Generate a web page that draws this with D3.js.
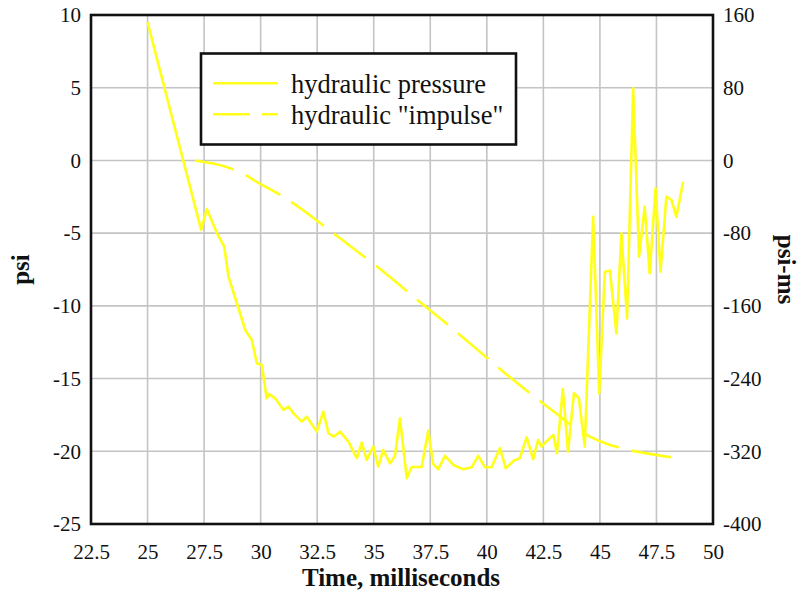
<!DOCTYPE html>
<html>
<head>
<meta charset="utf-8">
<script src="https://cdn.jsdelivr.net/npm/d3@7"></script>
<style>
  html, body { margin: 0; padding: 0; background: #fff; }
  svg { display: block; }
  svg text { font-family: "Times New Roman", "Liberation Serif", Tinos, "DejaVu Serif", serif; fill: #111; }
</style>
</head>
<body>
<svg id="chart" width="804" height="593"></svg>
<script>
// Pressure trace (psi) against time (ms)
const pressureTime = [25, 27.37, 27.62, 28.07, 28.39, 28.58, 28.95, 29.32, 29.61, 29.83, 30.05, 30.27, 30.38, 30.64,
  31.01, 31.23, 31.45, 31.82, 32.04, 32.48, 32.77, 33.0, 33.22, 33.51, 33.88, 34.25, 34.47, 34.69, 34.98, 35.2,
  35.42, 35.72, 35.94, 36.16, 36.46, 36.68, 37.12, 37.41, 37.63, 37.85, 38.15, 38.52, 38.96, 39.33, 39.62, 39.92,
  40.21, 40.58, 40.84, 41.2, 41.46, 41.76, 42.05, 42.27, 42.42, 42.61, 42.94, 43.1, 43.36, 43.59, 43.85, 44.07,
  44.33, 44.7, 44.97, 45.22, 45.44, 45.73, 45.95, 46.2, 46.47, 46.73, 46.98, 47.2, 47.46, 47.68, 47.94, 48.16,
  48.38, 48.68];
const pressure = [9.5, -4.78, -3.34, -5.01, -5.93, -8.0, -9.82, -11.66, -12.35, -13.95, -14.07, -16.36, -16.06, -16.36,
  -17.16, -16.93, -17.39, -17.96, -17.62, -18.65, -17.28, -18.76, -19.0, -18.65, -19.34, -20.48, -19.41, -20.6, -19.68, -21.06,
  -19.91, -20.83, -20.32, -17.73, -21.86, -21.08, -21.08, -18.58, -20.87, -21.24, -20.32, -20.94, -21.24, -21.1, -20.32, -21.1,
  -21.1, -19.79, -21.17, -20.63, -20.48, -19.04, -20.55, -19.22, -19.68, -19.36, -18.88, -20.14, -15.72, -20.03, -16.01, -16.34,
  -19.68, -3.87, -16.01, -7.65, -7.58, -11.89, -5.01, -10.86, 4.96, -6.62, -3.18, -7.76, -1.92, -7.65, -2.49, -2.72,
  -3.87, -1.46];

// Integrated "impulse" (psi-ms) against time (ms)
const impulseTime = [27.1, 28, 29, 30, 31, 32, 33, 34, 35, 36, 37, 38, 39, 40, 41, 42, 43, 44, 45, 46, 47, 48, 48.7];
const impulse = [0, -4, -12, -26, -40, -57, -76, -95, -114, -134, -155, -175, -196, -217, -238, -258, -277, -296, -309, -317, -322, -326, -328];

// Axis ticks
const xTicks = [22.5, 25, 27.5, 30, 32.5, 35, 37.5, 40, 42.5, 45, 47.5, 50];
const psiTicks = [10, 5, 0, -5, -10, -15, -20, -25];
const psiMsTicks = [160, 80, 0, -80, -160, -240, -320, -400];

// Legend entries
const legendLabels = ["hydraulic pressure", "hydraulic \"impulse\""];

const svg = d3.select("#chart");
const plotL = 91, plotR = 713, plotT = 15, plotB = 524;
const lineColor = "#ffff1a";
const serif = "\"Times New Roman\", \"Liberation Serif\", Tinos, \"DejaVu Serif\", serif";

const x = d3.scaleLinear().domain([22.5, 50]).range([plotL, plotR]);
const yL = d3.scaleLinear().domain([-25, 10]).range([plotB, plotT]);
const yR = d3.scaleLinear().domain([-400, 160]).range([plotB, plotT]);

// Grid
const grid = svg.append("g").attr("stroke", "#c4c4c4").attr("stroke-width", 1.6);
grid.selectAll("line.v").data(xTicks).join("line").attr("class", "v")
  .attr("x1", d => x(d)).attr("x2", d => x(d)).attr("y1", plotT).attr("y2", plotB);
grid.selectAll("line.h").data(psiTicks).join("line").attr("class", "h")
  .attr("y1", d => yL(d)).attr("y2", d => yL(d)).attr("x1", plotL).attr("x2", plotR);

// Axes (labels only, the frame is drawn separately)
const axisFont = g => {
  g.attr("font-family", serif).attr("font-size", 21);
  g.select(".domain").remove();
  g.selectAll(".tick line").remove();
  g.selectAll("text").style("font-family", serif).style("font-size", "21px").attr("fill", "#111");
};
svg.append("g").attr("transform", `translate(0,${plotB})`)
  .call(d3.axisBottom(x).tickValues(xTicks).tickSize(0).tickPadding(20).tickFormat(d => String(d)))
  .call(axisFont);
svg.append("g").attr("transform", `translate(${plotL},0)`)
  .call(d3.axisLeft(yL).tickValues(psiTicks).tickSize(0).tickPadding(10).tickFormat(d => String(d)))
  .call(axisFont);
svg.append("g").attr("transform", `translate(${plotR},0)`)
  .call(d3.axisRight(yR).tickValues(psiMsTicks).tickSize(0).tickPadding(10).tickFormat(d => String(d)))
  .call(axisFont);

// Series
const pressureLine = d3.line().x((d, i) => x(pressureTime[i])).y(d => yL(d));
svg.append("path").datum(pressure)
  .attr("d", pressureLine)
  .attr("fill", "none").attr("stroke", lineColor).attr("stroke-width", 2.6)
  .attr("stroke-linejoin", "round");

const impulseLine = d3.line().curve(d3.curveMonotoneX).x((d, i) => x(impulseTime[i])).y(d => yR(d));
svg.append("path").datum(impulse)
  .attr("d", impulseLine)
  .attr("fill", "none").attr("stroke", lineColor).attr("stroke-width", 2.6)
  .attr("stroke-dasharray", "40,13");

// Frame
svg.append("rect").attr("x", plotL).attr("y", plotT)
  .attr("width", plotR - plotL).attr("height", plotB - plotT)
  .attr("fill", "none").attr("stroke", "#111").attr("stroke-width", 2.6);

// Axis titles
svg.append("text").attr("x", (plotL + plotR) / 2 - 1).attr("y", 586)
  .attr("text-anchor", "middle").style("font-size", "25px").attr("font-weight", "bold")
  .text("Time, milliseconds");
svg.append("text").attr("transform", `translate(29,${(plotT + plotB) / 2}) rotate(-90)`)
  .attr("text-anchor", "middle").style("font-size", "25px").attr("font-weight", "bold")
  .text("psi");
svg.append("text").attr("transform", `translate(778,${(plotT + plotB) / 2}) rotate(90)`)
  .attr("text-anchor", "middle").style("font-size", "25px").attr("font-weight", "bold")
  .text("psi-ms");

// Legend
const legend = svg.append("g");
legend.append("rect").attr("x", 201).attr("y", 53.5).attr("width", 315).attr("height", 91)
  .attr("fill", "#fff").attr("stroke", "#111").attr("stroke-width", 2.6);
const rows = legend.selectAll("g.row").data(legendLabels).join("g").attr("class", "row")
  .attr("transform", (d, i) => `translate(0,${83.3 + i * 31})`);
rows.append("line").attr("x1", 213).attr("x2", 278).attr("y1", 0).attr("y2", 0)
  .attr("stroke", lineColor).attr("stroke-width", 2.6)
  .attr("stroke-dasharray", (d, i) => i === 0 ? null : "37,12");
rows.append("text").attr("x", 291).attr("y", 9.5).style("font-size", "26.5px").text(d => d);
</script>
</body>
</html>
